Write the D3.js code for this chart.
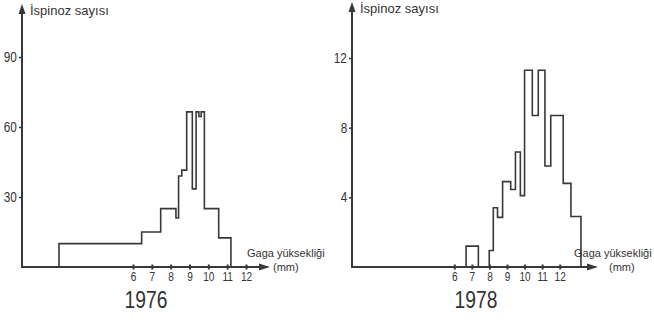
<!DOCTYPE html>
<html>
<head>
<meta charset="utf-8">
<script src="https://cdn.jsdelivr.net/npm/d3@7"></script>
<style>
  html, body { margin: 0; padding: 0; background: #fff; }
  svg { display: block; }
  text { fill: #333; }
  .narrow { transform-box: fill-box; transform-origin: center; transform: scaleX(0.84); }
</style>
</head>
<body>
<svg id="chart" width="654" height="320"></svg>
<script>
// Beak depth (mm) bin edges and finch counts for each year
const edges1976 = [2.07, 6.46, 7.47, 8.28, 8.42, 8.59, 8.85, 9.15, 9.35, 9.5, 9.62, 9.79, 10.55, 11.2];
const counts1976 = [10, 15, 25, 21, 39, 41.5, 66.5, 33.5, 66.5, 64.5, 66.5, 25, 12.5];

const edges1978a = [6.67, 7.37];
const counts1978a = [1.2];
const edges1978b = [7.99, 8.22, 8.46, 8.75, 9.21, 9.48, 9.76, 10.0, 10.44, 10.78, 11.16, 11.49, 12.2, 12.64, 13.21];
const counts1978b = [0.95, 3.4, 2.85, 4.9, 4.45, 6.6, 4.1, 11.3, 8.7, 11.3, 5.8, 8.7, 4.8, 2.9];

const xTicks = [6, 7, 8, 9, 10, 11, 12];
const yTicks1976 = [30, 60, 90];
const yTicks1978 = [4, 8, 12];

const yLabel = "İspinoz sayısı";
const xLabel = "Gaga yüksekliği";
const xUnit = "(mm)";

const svg = d3.select("#chart");
const ink = "#383838";
const sans = "'Liberation Sans', Arial, sans-serif";

function stepPoints(edges, counts) {
  const pts = [[edges[0], 0]];
  counts.forEach((c, i) => { pts.push([edges[i], c]); pts.push([edges[i + 1], c]); });
  pts.push([edges[edges.length - 1], 0]);
  return pts;
}

function panel(p) {
  const g = svg.append("g");
  const x = d3.scaleLinear().domain([6, 12]).range([p.x6, p.x12]);
  const y = d3.scaleLinear().domain([0, p.yMax]).range([p.y0, p.yTop]);

  // histogram outlines
  const line = d3.line().x(d => x(d[0])).y(d => y(d[1]));
  p.series.forEach(s => {
    g.append("path")
      .attr("d", line(stepPoints(s.edges, s.counts)))
      .attr("fill", "none").attr("stroke", ink).attr("stroke-width", 1.6)
      .attr("stroke-linejoin", "miter");
  });

  // axis lines with arrowheads
  g.append("line").attr("x1", p.ox).attr("x2", p.ox).attr("y1", p.y0 + 1).attr("y2", p.yArrow + 6)
    .attr("stroke", ink).attr("stroke-width", 2);
  g.append("path")
    .attr("d", `M${p.ox},${p.yArrow} L${p.ox - 3.5},${p.yArrow + 10} L${p.ox + 3.5},${p.yArrow + 10} Z`)
    .attr("fill", ink);
  g.append("line").attr("x1", p.ox - 1).attr("x2", p.xArrow - 6).attr("y1", p.y0).attr("y2", p.y0)
    .attr("stroke", ink).attr("stroke-width", 2);
  g.append("path")
    .attr("d", `M${p.xArrow},${p.y0} L${p.xArrow - 11},${p.y0 - 3.5} L${p.xArrow - 11},${p.y0 + 3.5} Z`)
    .attr("fill", ink);

  // x ticks
  const xa = g.append("g").attr("transform", `translate(0,${p.y0})`)
    .call(d3.axisBottom(x).tickValues(xTicks).tickSize(3).tickPadding(2).tickFormat(d3.format("d")));
  xa.select(".domain").remove();
  xa.selectAll(".tick line").attr("y1", -2.5).attr("y2", 2.5).attr("stroke", ink).attr("stroke-width", 2);
  xa.selectAll(".tick text").attr("class", "narrow")
    .attr("font-family", sans).attr("font-size", 12).attr("fill", "#333");

  // y ticks
  const ya = g.append("g").attr("transform", `translate(${p.ox},0)`)
    .call(d3.axisLeft(y).tickValues(p.yTicks).tickSize(3).tickPadding(1).tickFormat(d3.format("d")));
  ya.select(".domain").remove();
  ya.selectAll(".tick line").attr("x1", -3).attr("x2", 0).attr("stroke", ink).attr("stroke-width", 1.5);
  ya.selectAll(".tick text").attr("class", "narrow")
    .attr("font-family", sans).attr("font-size", 14).attr("fill", "#333");

  // labels
  g.append("text").attr("x", p.ox + 8).attr("y", p.yArrow + 11).text(yLabel)
    .attr("font-family", sans).attr("font-size", 13);
  g.append("text").attr("x", p.xArrow - 23 + p.labelShift).attr("y", p.y0 - 10).text(xLabel)
    .attr("font-family", sans).attr("font-size", 11);
  g.append("text").attr("x", p.xArrow + 3 + p.unitShift).attr("y", p.y0 + 4).text(xUnit)
    .attr("font-family", sans).attr("font-size", 11);
  g.append("text").attr("class", "narrow").attr("x", p.titleX).attr("y", 308)
    .attr("text-anchor", "middle").text(p.title)
    .attr("font-family", sans).attr("font-size", 23);
}

panel({
  ox: 22, y0: 267, yTop: 57, yMax: 90, yArrow: 4, xArrow: 270, labelShift: 0, unitShift: 0,
  x6: 133, x12: 246, yTicks: yTicks1976, title: "1976", titleX: 146,
  series: [{ edges: edges1976, counts: counts1976 }]
});

panel({
  ox: 352, y0: 267, yTop: 58, yMax: 12, yArrow: 2, xArrow: 598, labelShift: -1, unitShift: 8,
  x6: 454.3, x12: 559.7, yTicks: yTicks1978, title: "1978", titleX: 476,
  series: [{ edges: edges1978a, counts: counts1978a }, { edges: edges1978b, counts: counts1978b }]
});
</script>
</body>
</html>
